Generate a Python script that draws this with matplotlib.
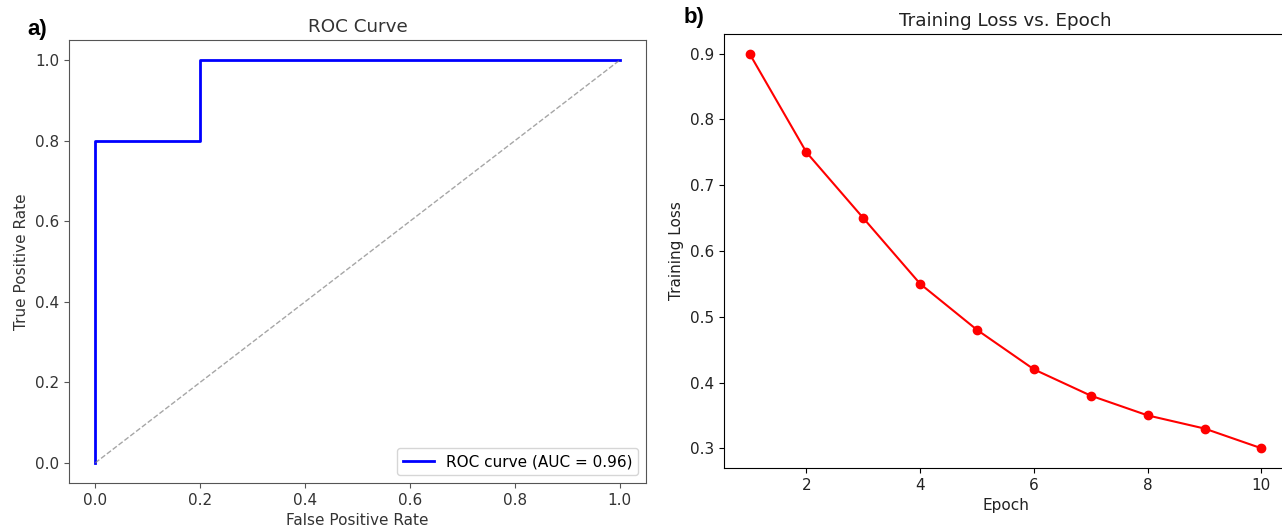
import matplotlib
matplotlib.use("Agg")
import matplotlib.pyplot as plt

# ROC data
fpr = [0.0, 0.0, 0.2, 0.2, 1.0]
tpr = [0.0, 0.8, 0.8, 1.0, 1.0]
auc_value = 0.96

# Training loss data
epochs = [1, 2, 3, 4, 5, 6, 7, 8, 9, 10]
loss = [0.90, 0.75, 0.65, 0.55, 0.48, 0.42, 0.38, 0.35, 0.33, 0.30]

plt.rcParams["font.size"] = 11

W, H = 1282, 530
fig = plt.figure(figsize=(W / 100, H / 100), dpi=100)

def rect(x0, y0, x1, y1):
    return [x0 / W, 1 - y1 / H, (x1 - x0) / W, (y1 - y0) / H]

ax1 = fig.add_axes(rect(69, 40, 646, 483))
ax1.plot(fpr, tpr, color="blue", lw=2, label=f"ROC curve (AUC = {auc_value:.2f})")
ax1.plot([0, 1], [0, 1], color="gray", lw=1, ls="--", alpha=0.7)
ax1.set_title("ROC Curve", color="#333333")
ax1.set_xlabel("False Positive Rate", color="#333333")
ax1.set_ylabel("True Positive Rate", color="#333333")
ax1.legend(loc="lower right")
for s in ax1.spines.values():
    s.set_color("#555555")
ax1.tick_params(colors="#555555", labelcolor="#333333")

ax2 = fig.add_axes(rect(724, 34, 1287, 468))
ax2.plot(epochs, loss, "o-", color="red", lw=1.5, markersize=6)
ax2.set_title("Training Loss vs. Epoch", color="#222222")
ax2.set_xlabel("Epoch", color="#222222")
ax2.set_ylabel("Training Loss", color="#222222")
ax2.tick_params(labelcolor="#222222")

fig.text(27 / W, 1 - 30 / H, "a)", fontsize=16, fontweight="bold",
         family="Liberation Sans", va="center", ha="left")
fig.text(684 / W, 1 - 17 / H, "b)", fontsize=16, fontweight="bold",
         family="Liberation Sans", va="center", ha="left")

fig.savefig("out.png", dpi=100)
